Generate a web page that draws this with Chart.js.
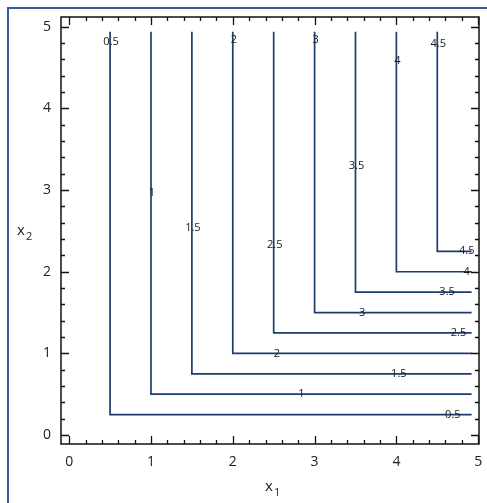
<!DOCTYPE html>
<html>
<head>
<meta charset="utf-8">
<script src="https://cdn.jsdelivr.net/npm/chart.js@4/dist/chart.umd.min.js"></script>
<style>
html,body{margin:0;padding:0;background:#fff;}
#wrap{width:487px;height:503px;position:relative;}
</style>
</head>
<body>
<div id="wrap"><canvas id="c" width="487" height="503"></canvas></div>
<script>
// Contour levels of the L-shaped curves
const levels = [0.5, 1, 1.5, 2, 2.5, 3, 3.5, 4, 4.5];
const cornerX = [0.5, 1, 1.5, 2, 2.5, 3, 3.5, 4, 4.5];
const cornerY = [0.25, 0.5, 0.75, 1, 1.25, 1.5, 1.75, 2, 2.25];
const lineTopY = 4.94;   // upper end of vertical legs
const lineRightX = 4.92; // right end of horizontal legs
// Label positions
const vLabelY = [4.81, 2.97, 2.54, 4.84, 2.33, 4.84, 3.30, 4.58, 4.79];
const hLabelX = [4.69, 2.84, 4.03, 2.54, 4.76, 3.58, 4.62, 4.86, 4.86];
const labelText = ['0.5', '1', '1.5', '2', '2.5', '3', '3.5', '4', '4.5'];
// Axis ticks
const xTicks = [0, 1, 2, 3, 4, 5];
const yTicks = [0, 1, 2, 3, 4, 5];
const xMinor = [0.2,0.4,0.6,0.8,1.2,1.4,1.6,1.8,2.2,2.4,2.6,2.8,3.2,3.4,3.6,3.8,4.2,4.4,4.6,4.8];
const yMinor = [0.2,0.4,0.6,0.8,1.2,1.4,1.6,1.8,2.2,2.4,2.6,2.8,3.2,3.4,3.6,3.8,4.2,4.4,4.6,4.8];

const LINE = '#1b3c6c';
const FONT = "'Open Sans', 'Noto Sans', sans-serif";

const datasets = levels.map((lv, i) => ({
  label: labelText[i],
  data: [
    {x: cornerX[i], y: lineTopY},
    {x: cornerX[i], y: cornerY[i]},
    {x: lineRightX, y: cornerY[i]}
  ],
  borderColor: LINE,
  borderWidth: 1.7,
  pointRadius: 0,
  tension: 0,
  fill: false
}));

const decor = {
  id: 'decor',
  afterDatasetsDraw(chart) {
    const ctx = chart.ctx;
    const xs = chart.scales.x, ys = chart.scales.y;
    const a = chart.chartArea;
    ctx.save();
    // contour labels
    ctx.fillStyle = '#1a1a1a';
    ctx.font = "11px " + FONT;
    ctx.textAlign = 'center';
    ctx.textBaseline = 'middle';
    levels.forEach((lv, i) => {
      ctx.fillText(labelText[i], xs.getPixelForValue(cornerX[i]) + 1, ys.getPixelForValue(vLabelY[i]));
      ctx.fillText(labelText[i], xs.getPixelForValue(hLabelX[i]), ys.getPixelForValue(cornerY[i]));
    });
    // axes box
    ctx.strokeStyle = '#111';
    ctx.lineWidth = 1.5;
    ctx.strokeRect(a.left, a.top, a.right - a.left, a.bottom - a.top);
    // ticks (inward, all four sides)
    ctx.lineWidth = 1.3;
    const tickX = (v, len) => {
      const p = Math.round(xs.getPixelForValue(v)) + 0.5;
      ctx.beginPath();
      ctx.moveTo(p, a.bottom); ctx.lineTo(p, a.bottom - len);
      ctx.moveTo(p, a.top); ctx.lineTo(p, a.top + len);
      ctx.stroke();
    };
    const tickY = (v, len) => {
      const p = Math.round(ys.getPixelForValue(v)) + 0.5;
      ctx.beginPath();
      ctx.moveTo(a.left, p); ctx.lineTo(a.left + len, p);
      ctx.moveTo(a.right, p); ctx.lineTo(a.right - len, p);
      ctx.stroke();
    };
    xTicks.forEach(v => tickX(v, 8));
    xMinor.forEach(v => tickX(v, 4));
    yTicks.forEach(v => tickY(v, 8));
    yMinor.forEach(v => tickY(v, 4));
    // axis titles with subscripts
    ctx.fillStyle = '#222';
    ctx.textAlign = 'left';
    ctx.textBaseline = 'alphabetic';
    ctx.font = "15px " + FONT;
    ctx.fillText('x', 17, 235);
    ctx.font = "11px " + FONT;
    ctx.fillText('2', 26, 240);
    ctx.font = "15px " + FONT;
    ctx.fillText('x', 265, 491);
    ctx.font = "11px " + FONT;
    ctx.fillText('1', 274, 496);
    // outer frame
    ctx.strokeStyle = '#34609a';
    ctx.lineWidth = 2;
    ctx.beginPath();
    ctx.moveTo(8, 510); ctx.lineTo(8, 8); ctx.lineTo(495, 8);
    ctx.stroke();
    ctx.restore();
  }
};

new Chart(document.getElementById('c'), {
  type: 'line',
  data: { datasets },
  options: {
    responsive: false,
    animation: false,
    events: [],
    layout: { padding: { left: 0, top: 17, right: 8, bottom: 0 } },
    plugins: { legend: { display: false }, tooltip: { enabled: false } },
    scales: {
      x: {
        type: 'linear',
        min: -0.1, max: 5.01,
        afterBuildTicks: s => { s.ticks = xTicks.map(v => ({value: v})); },
        afterFit: s => { s.height = 59; s.paddingLeft = 0; s.paddingRight = 0; },
        grid: { display: false, drawTicks: false },
        border: { display: false },
        ticks: { color: '#222', font: { family: FONT, size: 14 }, padding: 10, maxRotation: 0, callback: v => String(v) }
      },
      y: {
        type: 'linear',
        min: -0.11, max: 5.12,
        afterBuildTicks: s => { s.ticks = yTicks.map(v => ({value: v})); },
        afterFit: s => { s.width = 61; s.paddingTop = 0; s.paddingBottom = 0; },
        grid: { display: false, drawTicks: false },
        border: { display: false },
        ticks: { color: '#222', font: { family: FONT, size: 14 }, padding: 10, callback: v => String(v) }
      }
    }
  },
  plugins: [decor]
});
</script>
</body>
</html>
